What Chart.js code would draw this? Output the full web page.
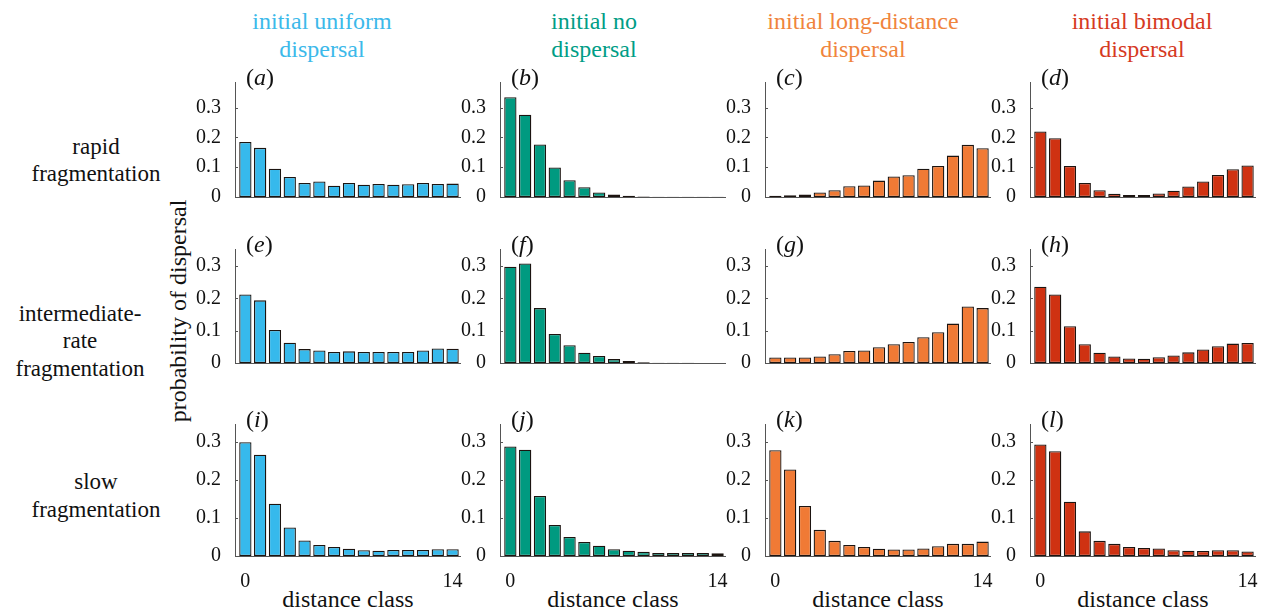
<!DOCTYPE html>
<html>
<head>
<meta charset="utf-8">
<script src="https://cdn.jsdelivr.net/npm/chart.js@4.4.1/dist/chart.umd.min.js"></script>
<style>
  body { margin: 0; background: #fff; width: 1266px; height: 614px; position: relative; overflow: hidden;
         font-family: "Liberation Serif", "DejaVu Serif", serif; color: #111; }
  .t { position: absolute; white-space: nowrap; transform: translate(-50%, -50%); line-height: 1; }
  .box { position: absolute; }
  .lab { position: absolute; white-space: nowrap; line-height: 1; font-size: 24px; }
</style>
</head>
<body>
<script>
  var distanceClasses = [0, 1, 2, 3, 4, 5, 6, 7, 8, 9, 10, 11, 12, 13, 14];
  var xTickLabels = [0, 14];
  var yTickValues = [0, 0.1, 0.2, 0.3];

  var columnTitles = [['initial uniform', 'dispersal'], ['initial no', 'dispersal'],
                      ['initial long-distance', 'dispersal'], ['initial bimodal', 'dispersal']];
  var rowTitles = [['rapid', 'fragmentation'], ['intermediate-', 'rate', 'fragmentation'], ['slow', 'fragmentation']];
  var panelLetters = ['a', 'b', 'c', 'd', 'e', 'f', 'g', 'h', 'i', 'j', 'k', 'l'];

  // rapid fragmentation
  var rapidUniform  = [0.185, 0.165, 0.095, 0.067, 0.047, 0.052, 0.038, 0.047, 0.041, 0.044, 0.041, 0.043, 0.047, 0.044, 0.045];
  var rapidNone     = [0.335, 0.276, 0.176, 0.099, 0.056, 0.033, 0.015, 0.008, 0.0045, 0.002, 0.001, 0.001, 0.001, 0.0005, 0.0005];
  var rapidLong     = [0.0045, 0.006, 0.008, 0.015, 0.023, 0.036, 0.039, 0.055, 0.069, 0.073, 0.095, 0.104, 0.139, 0.175, 0.164];
  var rapidBimodal  = [0.22, 0.197, 0.104, 0.047, 0.023, 0.011, 0.007, 0.007, 0.012, 0.021, 0.035, 0.052, 0.074, 0.093, 0.106];
  // intermediate-rate fragmentation
  var interUniform  = [0.212, 0.194, 0.102, 0.063, 0.043, 0.039, 0.034, 0.036, 0.034, 0.034, 0.034, 0.034, 0.039, 0.045, 0.044];
  var interNone     = [0.298, 0.308, 0.170, 0.090, 0.055, 0.032, 0.022, 0.012, 0.006, 0.0025, 0.001, 0.0008, 0.0005, 0.0003, 0.0003];
  var interLong     = [0.017, 0.017, 0.017, 0.020, 0.027, 0.037, 0.039, 0.049, 0.058, 0.065, 0.080, 0.095, 0.122, 0.175, 0.170];
  var interBimodal  = [0.236, 0.212, 0.114, 0.058, 0.032, 0.020, 0.014, 0.013, 0.018, 0.023, 0.033, 0.042, 0.052, 0.060, 0.062];
  // slow fragmentation
  var slowUniform   = [0.300, 0.267, 0.138, 0.075, 0.041, 0.029, 0.024, 0.019, 0.015, 0.014, 0.016, 0.016, 0.016, 0.018, 0.018];
  var slowNone      = [0.289, 0.280, 0.158, 0.082, 0.050, 0.037, 0.027, 0.018, 0.014, 0.011, 0.008, 0.008, 0.008, 0.008, 0.007];
  var slowLong      = [0.279, 0.228, 0.132, 0.069, 0.040, 0.029, 0.024, 0.019, 0.017, 0.017, 0.020, 0.026, 0.032, 0.032, 0.038];
  var slowBimodal   = [0.294, 0.276, 0.143, 0.065, 0.040, 0.032, 0.024, 0.021, 0.020, 0.015, 0.014, 0.013, 0.015, 0.015, 0.012];

  var panelValues = [
    [rapidUniform, rapidNone, rapidLong, rapidBimodal],
    [interUniform, interNone, interLong, interBimodal],
    [slowUniform, slowNone, slowLong, slowBimodal]
  ];

  var barColors   = ['#36b9ec', '#009a80', '#f07a35', '#cf3212'];
  var titleColors = ['#3cb9ea', '#009d86', '#f0843c', '#d63a1f'];
  var axisColor = '#555';
  var serif = "'Liberation Serif', 'DejaVu Serif', serif";

  // layout (px)
  var colLeft = [235, 500, 765, 1030];
  var colTitleX = [322, 594, 863, 1142];
  var rowTop = [72, 239, 414];
  var rowBottom = [214, 380, 556];
  var rowYMax = [0.386, 0.353, 0.348];
  var rowLabelX = [96, 80, 96];
  var rowLabelY = [[146, 173], [313, 340, 368], [481, 509]];
  var plotWidth = 225;
  var padLeft = 55, padTop = 8, padRight = 10;

  Chart.defaults.font.family = serif;

  function addText(html, x, y, size, color, extra) {
    var el = document.createElement('div');
    el.className = 't';
    el.innerHTML = html;
    el.style.left = x + 'px';
    el.style.top = y + 'px';
    el.style.fontSize = size + 'px';
    if (color) el.style.color = color;
    if (extra) el.style.transform = extra;
    document.body.appendChild(el);
  }

  columnTitles.forEach(function (lines, c) {
    addText(lines[0], colTitleX[c], 21, 24, titleColors[c]);
    addText(lines[1], colTitleX[c], 49, 24, titleColors[c]);
  });
  rowTitles.forEach(function (lines, r) {
    lines.forEach(function (s, k) { addText(s, rowLabelX[r], rowLabelY[r][k], 23, '#111'); });
  });
  addText('probability of dispersal', 178, 311, 24, '#111', 'translate(-50%, -50%) rotate(-90deg)');
  colLeft.forEach(function (x) { addText('distance class', x + 113, 599, 24, '#111'); });

  var innerTicks = {
    id: 'innerTicks',
    afterDatasetsDraw: function (chart) {
      var ctx = chart.ctx, a = chart.chartArea, ys = chart.scales.y;
      ctx.save();
      ctx.strokeStyle = axisColor;
      ctx.lineWidth = 1;
      ys.ticks.forEach(function (t) {
        var py = Math.round(ys.getPixelForValue(t.value)) + 0.5;
        ctx.beginPath();
        ctx.moveTo(a.left, py);
        ctx.lineTo(a.left + 3, py);
        ctx.stroke();
      });
      ctx.restore();
    }
  };

  function makePanel(r, c) {
    var bottomRow = r === 2;
    var xh = bottomRow ? 32 : 1;
    var h = rowBottom[r] - rowTop[r] + padTop + xh;
    var box = document.createElement('div');
    box.className = 'box';
    box.style.left = (colLeft[c] - padLeft) + 'px';
    box.style.top = (rowTop[r] - padTop) + 'px';
    box.style.width = (padLeft + plotWidth + padRight) + 'px';
    box.style.height = h + 'px';
    var canvas = document.createElement('canvas');
    box.appendChild(canvas);
    document.body.appendChild(box);

    var vals = panelValues[r][c];
    var pts = distanceClasses.map(function (d, i) { return { x: d, y: vals[i] }; });

    new Chart(canvas, {
      type: 'bar',
      data: {
        datasets: [{
          data: pts,
          backgroundColor: barColors[c],
          borderColor: '#1c1410',
          borderWidth: 1.3,
          borderSkipped: false,
          categoryPercentage: 1,
          barPercentage: 0.83
        }]
      },
      options: {
        responsive: true,
        maintainAspectRatio: false,
        animation: false,
        layout: { padding: { top: padTop, right: padRight, left: 0, bottom: 0 } },
        plugins: { legend: { display: false }, tooltip: { enabled: false } },
        scales: {
          x: {
            type: 'linear',
            offset: false,
            min: -0.7,
            max: 14.5,
            grid: { display: false },
            border: { color: axisColor, width: 1 },
            afterBuildTicks: function (s) {
              s.ticks = xTickLabels.map(function (v) { return { value: v }; });
            },
            afterFit: function (s) { s.height = xh; },
            ticks: {
              display: bottomRow,
              autoSkip: false,
              maxRotation: 0,
              padding: 6,
              color: '#111',
              font: { family: serif, size: 20 }
            }
          },
          y: {
            min: 0,
            max: rowYMax[r],
            grid: { display: false },
            border: { display: true, color: axisColor, width: 1 },
            afterBuildTicks: function (s) {
              s.ticks = yTickValues.map(function (v) { return { value: v }; });
            },
            afterFit: function (s) { s.width = padLeft; },
            ticks: {
              padding: 6,
              color: '#111',
              font: { family: serif, size: 20 },
              callback: function (v) { return v === 0 ? '0' : v.toFixed(1); }
            }
          }
        }
      },
      plugins: [innerTicks]
    });

    var lab = document.createElement('div');
    lab.className = 'lab';
    lab.innerHTML = '(<i>' + panelLetters[r * 4 + c] + '</i>)';
    lab.style.left = (colLeft[c] + 11) + 'px';
    lab.style.top = (rowTop[r] - 7) + 'px';
    document.body.appendChild(lab);
  }

  for (var r = 0; r < 3; r++) {
    for (var c = 0; c < 4; c++) makePanel(r, c);
  }
</script>
</body>
</html>
